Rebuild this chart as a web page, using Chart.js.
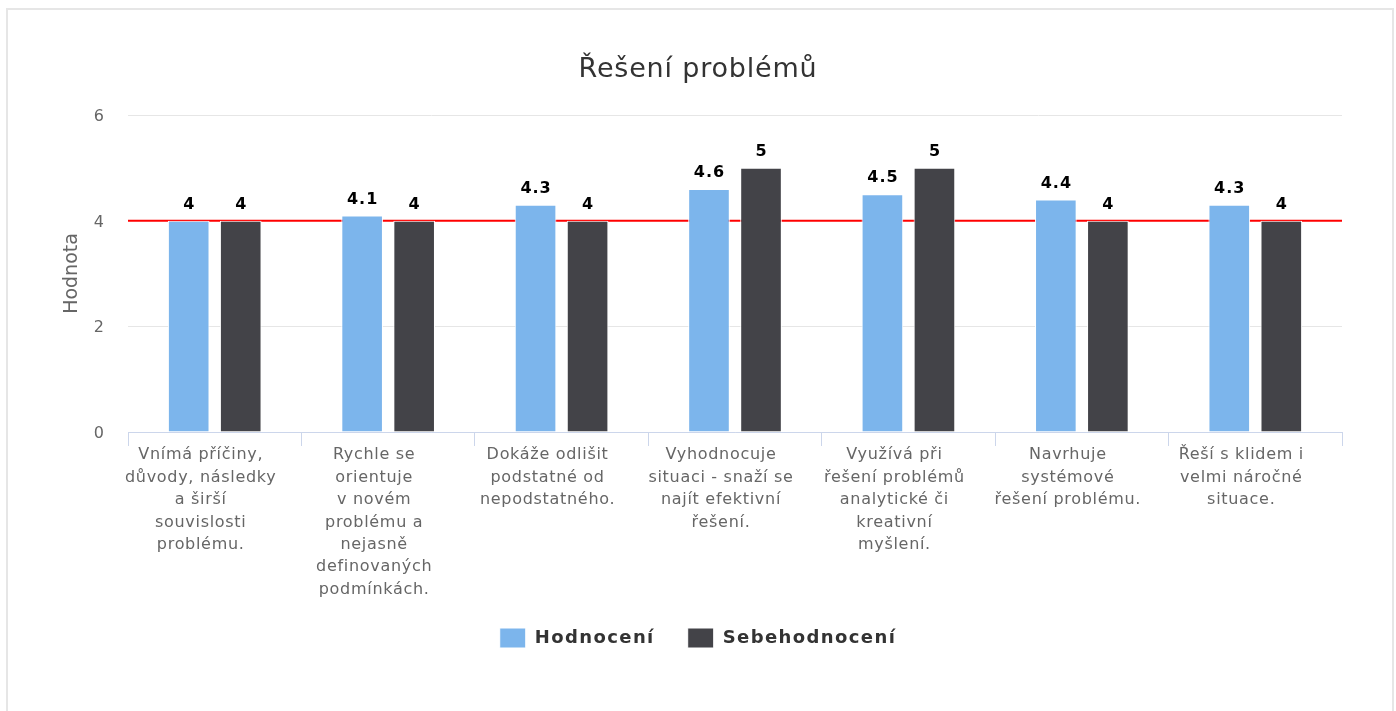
<!DOCTYPE html>
<html>
<head>
<meta charset="utf-8">
<script src="https://cdn.jsdelivr.net/npm/chart.js@4"></script>
<style>
  html, body { margin: 0; padding: 0; background: #ffffff; overflow: hidden; }
  #frame { position: absolute; left: 6px; top: 8px; width: 1388px; height: 760px; border: 2px solid #e6e6e6; box-sizing: border-box; }
  #wrap { position: absolute; left: 0; top: 0; width: 1396px; height: 711px; }
</style>
</head>
<body>
<div id="frame"></div>
<div id="wrap"><canvas id="c" width="1396" height="711"></canvas></div>
<script>
const categories = [
  ["Vnímá příčiny,", "důvody, následky", "a širší", "souvislosti", "problému."],
  ["Rychle se", "orientuje", "v novém", "problému a", "nejasně", "definovaných", "podmínkách."],
  ["Dokáže odlišit", "podstatné od", "nepodstatného."],
  ["Vyhodnocuje", "situaci - snaží se", "najít efektivní", "řešení."],
  ["Využívá při", "řešení problémů", "analytické či", "kreativní", "myšlení."],
  ["Navrhuje", "systémové", "řešení problému."],
  ["Řeší s klidem i", "velmi náročné", "situace."]
];
const hodnoceni = [4, 4.1, 4.3, 4.6, 4.5, 4.4, 4.3];
const sebehodnoceni = [4, 4, 4, 5, 5, 4, 4];
const yTicks = [0, 2, 4, 6];
const thresholdValue = 4;
const chartTitle = "Řešení problémů";
const yAxisTitle = "Hodnota";
const seriesNames = ["Hodnocení", "Sebehodnocení"];

const FONT = "'DejaVu Sans', sans-serif";

function wrapSpacing(chart, obj, methods, spacing) {
  if (!obj) return;
  methods.forEach(m => {
    const orig = obj[m];
    if (typeof orig !== 'function') return;
    obj[m] = function (...args) {
      const ctx = chart.ctx;
      const prev = ctx.letterSpacing;
      ctx.letterSpacing = spacing;
      try { return orig.apply(this, args); }
      finally { ctx.letterSpacing = prev; }
    };
  });
}

const spacingPatch = {
  id: 'spacingPatch',
  beforeLayout(chart) {
    if (chart.$spacingPatched) return;
    chart.$spacingPatched = true;
    wrapSpacing(chart, chart.legend, ['fit', 'draw'], '1.4px');
    wrapSpacing(chart, chart.titleBlock, ['draw'], '0.8px');
    const xs = chart.scales.x;
    if (xs) {
      wrapSpacing(chart, xs, ['drawLabels'], '0.7px');
      xs._computeLabelArea = function () { return undefined; };
    }
  }
};

const thresholdLine = {
  id: 'thresholdLine',
  beforeDatasetsDraw(chart) {
    const {ctx, chartArea} = chart;
    const y = chart.scales.y.getPixelForValue(thresholdValue);
    ctx.save();
    ctx.strokeStyle = '#ff0000';
    ctx.lineWidth = 2;
    ctx.beginPath();
    ctx.moveTo(chartArea.left, y);
    ctx.lineTo(chartArea.right, y);
    ctx.stroke();
    ctx.restore();
  }
};

const valueLabels = {
  id: 'valueLabels',
  afterDatasetsDraw(chart) {
    const {ctx} = chart;
    ctx.save();
    ctx.font = "bold 16px " + FONT;
    ctx.letterSpacing = '1px';
    ctx.fillStyle = '#000000';
    ctx.textAlign = 'center';
    ctx.textBaseline = 'middle';
    chart.data.datasets.forEach((ds, di) => {
      const meta = chart.getDatasetMeta(di);
      meta.data.forEach((el, i) => {
        ctx.fillText(String(ds.data[i]), el.x + 0.5, el.y - 16);
      });
    });
    ctx.restore();
  }
};

new Chart(document.getElementById('c'), {
  type: 'bar',
  data: {
    labels: categories,
    datasets: [
      { label: seriesNames[0], data: hodnoceni, backgroundColor: '#7cb5ec', borderColor: '#ffffff', borderWidth: 1,
        categoryPercentage: 0.6, barPercentage: 0.8 },
      { label: seriesNames[1], data: sebehodnoceni, backgroundColor: '#434348', borderColor: '#ffffff', borderWidth: 1,
        categoryPercentage: 0.6, barPercentage: 0.8 }
    ]
  },
  options: {
    responsive: false,
    animation: false,
    events: [],
    layout: { padding: { left: 54, right: 54, top: 0, bottom: 53 } },
    plugins: {
      title: {
        display: true,
        text: chartTitle,
        color: '#333333',
        font: { family: FONT, size: 27, weight: 'normal', lineHeight: 1.2 },
        padding: { top: 53.8, bottom: 28.8 }
      },
      legend: {
        display: true,
        position: 'bottom',
        labels: {
          boxWidth: 26,
          boxHeight: 20,
          padding: 33,
          color: '#333333',
          font: { family: FONT, size: 18, weight: 'bold' }
        }
      },
      tooltip: { enabled: false }
    },
    scales: {
      x: {
        afterFit(scale) { scale.height = 163; },
        grid: { display: true, drawOnChartArea: false, drawTicks: true, tickLength: 14, tickColor: '#ccd6eb', offset: true },
        border: { display: true, color: '#ccd6eb', width: 1 },
        ticks: {
          color: '#666666',
          font: { family: FONT, size: 16, lineHeight: 1.4 },
          padding: -2,
          labelOffset: -14,
          maxRotation: 0,
          minRotation: 0,
          autoSkip: false
        }
      },
      y: {
        min: 0,
        max: 6,
        afterFit(scale) { scale.width = 74; },
        afterBuildTicks(scale) { scale.ticks = yTicks.map(v => ({ value: v })); },
        grid: { color: '#e6e6e6', drawTicks: false, lineWidth: 1 },
        border: { display: false },
        ticks: {
          color: '#666666',
          font: { family: FONT, size: 16 },
          padding: 24,
          labelOffset: 2
        },
        title: {
          display: true,
          text: yAxisTitle,
          color: '#666666',
          font: { family: FONT, size: 19, weight: 'normal', lineHeight: 1.2 },
          padding: { top: 7, bottom: 0 }
        }
      }
    }
  },
  plugins: [spacingPatch, thresholdLine, valueLabels]
});
</script>
</body>
</html>
